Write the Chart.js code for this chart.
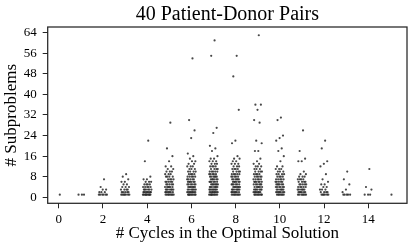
<!DOCTYPE html>
<html>
<head>
<meta charset="utf-8">
<script src="https://cdn.jsdelivr.net/npm/chart.js@4/dist/chart.umd.min.js"></script>
<style>
    html, body { margin: 0; padding: 0; background: #ffffff; }
    #wrap { width: 415px; height: 250px; }
</style>
</head>
<body>
<div id="wrap"><canvas id="chart"></canvas></div>
<script>
// subproblem counts for each number of cycles in the optimal solution
const cycles = [0, 1, 2, 3, 4, 5, 6, 7, 8, 9, 10, 11, 12, 13, 14, 15];

const cyc0 = [1];
const cyc1 = [1, 1, 1];
const cyc2 = [7, 4, 3, 3, 2, 2, 2, 1, 1, 1, 1, 1, 1];
const cyc3 = [9, 8, 7, 6, 6, 5, 5, 4, 4, 4, 3, 3, 3, 3, 2, 2, 2, 2, 2, 1, 1, 1, 1, 1, 1, 1];
const cyc4 = [22, 14, 8, 7, 7, 6, 6, 6, 5, 5, 5, 5, 4, 4, 4, 4, 4, 3, 3, 3, 3, 3, 3,
              2, 2, 2, 2, 2, 2, 2, 2, 1, 1, 1, 1, 1, 1, 1, 1, 1, 1];
const cyc5 = [29, 19, 16, 14, 12, 12, 11, 11, 10, 10, 10, 9, 9, 9, 8, 8, 8, 8, 7, 7, 7, 7,
              6, 6, 6, 6, 6, 5, 5, 5, 5, 5, 4, 4, 4, 4, 4, 4, 3, 3, 3, 3, 3, 3, 3,
              2, 2, 2, 2, 2, 2, 2, 1, 1, 1, 1, 1, 1, 1, 1];
const cyc6 = [54, 30, 26, 23, 17, 16, 15, 14, 14, 13, 13, 12, 12, 12, 11, 11, 11, 10, 10, 10, 10,
              9, 9, 9, 9, 8, 8, 8, 8, 8, 7, 7, 7, 7, 7, 6, 6, 6, 6, 6, 6, 5, 5, 5, 5, 5, 5,
              4, 4, 4, 4, 4, 4, 4, 3, 3, 3, 3, 3, 3, 3, 2, 2, 2, 2, 2, 2, 2, 2,
              1, 1, 1, 1, 1, 1, 1, 1, 1];
const cyc7 = [61, 55, 27, 25, 20, 19, 18, 16, 15, 15, 14, 14, 14, 13, 13, 13, 12, 12, 12, 12,
              11, 11, 11, 11, 10, 10, 10, 10, 10, 9, 9, 9, 9, 9, 8, 8, 8, 8, 8, 8,
              7, 7, 7, 7, 7, 7, 6, 6, 6, 6, 6, 6, 5, 5, 5, 5, 5, 5, 5, 4, 4, 4, 4, 4, 4, 4,
              3, 3, 3, 3, 3, 3, 3, 3, 2, 2, 2, 2, 2, 2, 2, 2, 1, 1, 1, 1, 1, 1, 1, 1, 1];
const cyc8 = [55, 47, 34, 22, 21, 16, 15, 15, 14, 14, 13, 13, 13, 12, 12, 12, 11, 11, 11, 11,
              10, 10, 10, 10, 9, 9, 9, 9, 9, 8, 8, 8, 8, 8, 7, 7, 7, 7, 7, 7, 6, 6, 6, 6, 6, 6,
              5, 5, 5, 5, 5, 5, 4, 4, 4, 4, 4, 4, 4, 3, 3, 3, 3, 3, 3, 3,
              2, 2, 2, 2, 2, 2, 2, 1, 1, 1, 1, 1, 1, 1, 1];
const cyc9 = [63, 36, 36, 34, 30, 29, 22, 21, 18, 18, 15, 14, 13, 13, 12, 12, 12, 11, 11, 11,
              10, 10, 10, 10, 9, 9, 9, 9, 8, 8, 8, 8, 8, 7, 7, 7, 7, 7, 6, 6, 6, 6, 6, 6,
              5, 5, 5, 5, 5, 5, 4, 4, 4, 4, 4, 4, 3, 3, 3, 3, 3, 3, 3,
              2, 2, 2, 2, 2, 2, 2, 1, 1, 1, 1, 1, 1, 1, 1];
const cyc10 = [31, 30, 24, 23, 22, 19, 18, 16, 14, 12, 12, 11, 11, 11, 10, 10, 10, 9, 9, 9, 9,
               8, 8, 8, 8, 7, 7, 7, 7, 7, 6, 6, 6, 6, 6, 5, 5, 5, 5, 5, 5, 4, 4, 4, 4, 4, 4,
               3, 3, 3, 3, 3, 3, 2, 2, 2, 2, 2, 2, 2, 1, 1, 1, 1, 1, 1, 1];
const cyc11 = [26, 18, 15, 14, 14, 10, 9, 9, 8, 8, 8, 7, 7, 7, 7, 6, 6, 6, 6, 5, 5, 5, 5, 5,
               4, 4, 4, 4, 4, 3, 3, 3, 3, 3, 3, 2, 2, 2, 2, 2, 2, 1, 1, 1, 1, 1, 1, 1];
const cyc12 = [22, 19, 14, 13, 12, 9, 7, 6, 5, 5, 4, 4, 3, 3, 3, 2, 2, 2, 2, 1, 1, 1, 1, 1, 1];
const cyc13 = [10, 7, 5, 3, 2, 1, 1, 1, 1, 1];
const cyc14 = [11, 4, 3, 1, 1, 1];
const cyc15 = [1];

const subproblems = [cyc0, cyc1, cyc2, cyc3, cyc4, cyc5, cyc6, cyc7,
                     cyc8, cyc9, cyc10, cyc11, cyc12, cyc13, cyc14, cyc15];

const xTicks = [0, 2, 4, 6, 8, 10, 12, 14];
const yTicks = [0, 8, 16, 24, 32, 40, 48, 56, 64];

// strip plot: spread the points of one category sideways, deterministic
const JITTER = 0.4;
const points = [];
cycles.forEach((c, k) => {
    subproblems[k].forEach((v, i) => {
        const frac = ((i + 1) * 0.6180339887) % 1;
        points.push({ x: c + (frac - 0.5) * JITTER, y: v });
    });
});

const FONT = "'Liberation Serif', 'DejaVu Serif', serif";
const INK = '#262626';

const frame = {
    id: 'frame',
    afterDatasetsDraw(chart) {
        const { ctx, chartArea: a } = chart;
        ctx.save();
        ctx.strokeStyle = INK;
        ctx.lineWidth = 1.25;
        ctx.strokeRect(a.left, a.top, a.right - a.left, a.bottom - a.top);
        ctx.restore();
    }
};

new Chart(document.getElementById('chart'), {
    type: 'scatter',
    data: {
        datasets: [{
            data: points,
            backgroundColor: 'rgba(40,40,40,0.85)',
            borderWidth: 0,
            pointRadius: 1.1,
            pointHoverRadius: 1.1,
        }]
    },
    options: {
        responsive: true,
        maintainAspectRatio: false,
        animation: false,
        events: [],
        layout: { padding: { left: 0, right: 8, top: 0, bottom: 0 } },
        plugins: {
            legend: { display: false },
            tooltip: { enabled: false },
            title: {
                display: true,
                text: '40 Patient-Donor Pairs',
                fullSize: false,
                color: '#000000',
                font: { family: FONT, size: 20, weight: 'normal' },
                padding: { top: 3, bottom: 0 },
            }
        },
        scales: {
            x: {
                type: 'linear',
                min: -0.5,
                max: 15.75,
                afterBuildTicks: (s) => { s.ticks = xTicks.map(v => ({ value: v })); },
                afterFit: (s) => { s.height = 46.7; },
                grid: { drawOnChartArea: false, drawTicks: true, tickLength: 5, color: INK, lineWidth: 1 },
                border: { display: false },
                ticks: {
                    color: '#000000',
                    padding: 3,
                    maxRotation: 0,
                    font: { family: FONT, size: 13 },
                },
                title: {
                    display: true,
                    text: '# Cycles in the Optimal Solution',
                    color: '#000000',
                    font: { family: FONT, size: 17 },
                    padding: { top: 0, bottom: 6 },
                }
            },
            y: {
                min: -2.34,
                max: 66.2,
                afterBuildTicks: (s) => { s.ticks = yTicks.map(v => ({ value: v })); },
                afterFit: (s) => { s.width = 47.7; },
                grid: { drawOnChartArea: false, drawTicks: true, tickLength: 5, color: INK, lineWidth: 1 },
                border: { display: false },
                ticks: {
                    color: '#000000',
                    padding: 6,
                    font: { family: FONT, size: 13 },
                },
                title: {
                    display: true,
                    text: '# Subproblems',
                    color: '#000000',
                    font: { family: FONT, size: 17 },
                    padding: { top: 1, bottom: 0 },
                }
            }
        }
    },
    plugins: [frame]
});
</script>
</body>
</html>
